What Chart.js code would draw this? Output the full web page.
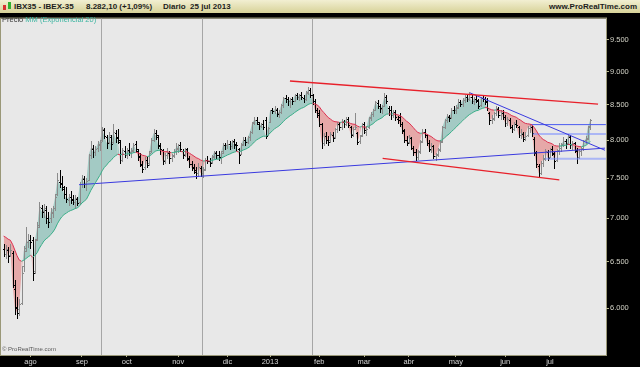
<!DOCTYPE html>
<html>
<head>
<meta charset="utf-8">
<script src="https://cdn.jsdelivr.net/npm/chart.js@4.4.1/dist/chart.umd.min.js"></script>
<style>
  body { margin: 0; background: #000; }
  #wrap { position: relative; width: 640px; height: 367px; overflow: hidden; background: #000;
          font-family: "Liberation Sans", Arial, sans-serif; }
  #hdr { position: absolute; left: 0; top: 0; width: 640px; height: 14px; box-sizing: border-box;
         background: linear-gradient(#f2efd2, #d7d298); border-bottom: 1px solid #8e8a62;
         font-size: 8px; font-weight: bold; color: #1c1c1c; line-height: 13px; }
  #hdr span { position: absolute; top: 0; white-space: nowrap; }
  .ico { position: absolute; top: 3px; width: 3px; height: 6px; }
  #cv { position: absolute; left: 0; top: 13px; }
  .txt { position: absolute; white-space: nowrap; }
</style>
</head>
<body>
<div id="wrap">
  <div id="hdr">
    <div class="ico" style="left:3px;background:#d83030;top:5px;height:5px"></div>
    <div class="ico" style="left:8px;background:#30b030;top:2px;height:7px"></div>
    <span style="left:14px">IBX35 - IBEX-35</span>
    <span style="left:86px">8.282,10 (+1,09%)</span>
    <span style="left:163px">Diario&nbsp; 25 jul 2013</span>
    <span style="right:3px">www.ProRealTime.com</span>
  </div>
  <canvas id="cv" width="640" height="354"></canvas>
  <div class="txt" style="left:2px;top:15px;font-size:7.5px;color:#3a3a3a">Precio <span style="color:#3cb4a0">MM (Exponencial 20)</span></div>
  <div class="txt" style="left:2px;top:346px;font-size:6px;color:#5a5a5a">© ProRealTime.com</div>
</div>
<script>
// IBEX-35 daily bars, 16 jul 2012 - 25 jul 2013 (one row per month)
const open = [
  6640,6590,6630,6570,6600,6200,6000,5990,6060,6450,6650,6720,
  6740,6750,6400,6760,6920,7120,7090,7100,7000,7000,7060,7130,7300,7450,7440,7360,7300,7220,7260,7230,7200,7230,7200,
  7420,7490,7420,7480,7800,7880,7840,7900,7940,8000,8140,8050,7980,8050,7980,8100,8040,7980,7740,7860,
  7800,7870,7840,7870,7950,7860,7790,7670,7640,7740,7690,7850,8010,8100,8050,7920,7870,7730,7800,7830,7760,7800,7860,
  7880,7940,7860,7810,7880,7750,7680,7640,7580,7570,7630,7560,7620,7740,7720,7710,7790,7830,7800,7760,7850,7940,
  7930,7950,7920,7990,7950,7880,7820,7950,8000,7980,8040,8120,8250,8280,8230,8200,8230,8280,8080,
  8250,8420,8410,8430,8380,8400,8500,8600,8580,8550,8580,8560,8640,8610,8640,8600,8590,8690,8720,8640,8560,8420,
  8380,8220,7960,8060,8010,8000,8080,8040,8150,8220,8180,8260,8230,8300,8180,8090,8160,8100,7990,8070,
  8230,8120,8180,8320,8370,8430,8530,8490,8440,8490,8620,8450,8420,8360,8400,8300,8320,8220,8130,8010,
  7980,8030,7890,7840,7780,7850,7990,8110,8070,7960,7870,7920,7790,7810,7880,7990,8190,8280,8330,8320,8430,
  8420,8470,8540,8510,8570,8610,8590,8610,8560,8590,8560,8500,8600,8580,8550,8380,8280,8310,8380,8440,8360,8390,
  8320,8240,8290,8180,8160,8230,8190,8070,8090,8040,8070,8170,8180,8020,7840,7650,7570,7700,7760,7840,
  7780,7880,7820,7730,7870,7900,7950,7990,7960,8050,7930,7960,7860,7780,7860,7890,8000,8030,8200
];
const high = [
  6700,6690,6660,6700,6620,6300,6120,6100,6450,6680,6900,6820,
  6800,6780,6760,6960,7200,7160,7180,7150,7080,7120,7150,7300,7560,7600,7520,7400,7380,7300,7330,7290,7280,7260,7450,
  7540,7530,7500,7820,7990,7930,7920,7990,8000,8180,8170,8080,8110,8070,8220,8140,8150,8000,7900,7920,
  7900,7960,7900,7970,7990,7880,7830,7720,7780,7780,7850,8030,8150,8140,8070,7960,7880,7830,7900,7860,7820,7880,7970,
  7950,7980,7880,7900,7900,7790,7720,7680,7640,7690,7660,7640,7760,7790,7760,7800,7860,7850,7860,7850,7960,7970,
  8010,7990,8000,8020,7980,7900,7960,8040,8040,8060,8130,8260,8330,8320,8260,8240,8290,8330,8180,
  8430,8460,8480,8450,8420,8520,8620,8640,8620,8600,8610,8660,8680,8660,8690,8640,8700,8760,8750,8660,8590,8460,
  8420,8240,8100,8110,8060,8120,8110,8170,8250,8260,8300,8290,8320,8330,8200,8180,8380,8120,8080,8240,
  8260,8200,8330,8400,8440,8560,8570,8520,8500,8670,8650,8490,8480,8420,8420,8340,8390,8260,8150,8060,
  8080,8050,7920,7880,7870,8000,8150,8160,8090,8000,7960,7940,7830,7900,8000,8200,8300,8370,8360,8450,8480,
  8500,8580,8570,8600,8640,8650,8690,8640,8610,8640,8590,8620,8650,8620,8600,8400,8350,8400,8480,8470,8420,8430,
  8350,8330,8310,8210,8260,8290,8200,8150,8120,8110,8200,8220,8200,8040,7860,7680,7720,7800,7880,7870,
  7900,7920,7840,7880,7970,7960,8040,8020,8090,8080,7990,7980,7890,7880,7910,8010,8060,8200,8300
];
const low = [
  6560,6540,6500,6560,6220,5940,5905,5930,6050,6400,6620,6660,
  6650,6300,6380,6740,6900,7020,7020,6950,6900,6960,7020,7100,7280,7380,7350,7250,7200,7160,7190,7170,7130,7160,7170,
  7390,7380,7350,7470,7760,7780,7800,7850,7870,7990,8030,7900,7960,7880,7960,7980,7960,7700,7720,7780,
  7760,7800,7780,7840,7860,7740,7650,7580,7620,7640,7670,7840,7990,8020,7900,7820,7680,7700,7760,7700,7720,7770,7820,
  7840,7850,7760,7790,7740,7640,7600,7560,7500,7530,7530,7510,7610,7690,7660,7700,7760,7760,7740,7700,7830,7880,
  7900,7880,7890,7900,7870,7690,7810,7930,7930,7960,8010,8100,8220,8220,8160,8180,8150,8030,8070,
  8250,8380,8380,8340,8330,8390,8470,8540,8500,8470,8520,8550,8590,8570,8590,8540,8570,8660,8620,8520,8400,8330,
  8200,7900,7940,7960,7940,7980,7990,8030,8120,8140,8150,8180,8210,8180,8040,8060,8150,7950,7960,8060,
  8100,8080,8170,8290,8340,8420,8460,8400,8390,8480,8530,8360,8300,8330,8280,8240,8200,8100,7980,7940,
  7960,7880,7800,7730,7750,7830,7980,8040,7940,7850,7840,7760,7730,7790,7860,7980,8170,8250,8270,8310,8380,
  8380,8450,8480,8490,8540,8560,8570,8530,8510,8540,8460,8480,8560,8510,8420,8220,8240,8290,8360,8330,8300,8300,
  8200,8210,8170,8120,8140,8180,8040,8030,7990,8000,8060,8110,8060,7800,7640,7515,7550,7660,7740,7730,
  7770,7800,7630,7720,7820,7860,7920,7900,7950,7900,7880,7840,7700,7760,7800,7870,7960,8020,8160
];
const close = [
  6590,6640,6560,6630,6246,6010,5956,6050,6380,6620,6720,6740,
  6720,6374,6740,6900,7140,7080,7120,7000,6960,7080,7120,7260,7480,7420,7380,7300,7230,7260,7220,7200,7250,7190,7420,
  7500,7420,7460,7800,7900,7840,7880,7950,7980,8150,8060,7960,8070,7950,8120,8030,8000,7730,7870,7800,
  7860,7840,7860,7940,7880,7780,7680,7620,7740,7670,7830,8000,8100,8070,7930,7880,7720,7800,7840,7760,7790,7850,7900,
  7930,7880,7800,7870,7760,7680,7630,7600,7560,7640,7560,7600,7740,7720,7700,7780,7840,7800,7770,7830,7940,7930,
  7950,7920,7980,7940,7930,7800,7940,8010,7980,8040,8110,8240,8290,8260,8200,8220,8180,8060,8170,
  8420,8410,8440,8370,8400,8500,8600,8580,8560,8580,8550,8640,8620,8640,8610,8580,8680,8720,8650,8560,8430,8360,
  8230,7960,8060,8000,7980,8090,8030,8150,8230,8180,8270,8230,8300,8210,8080,8150,8180,7980,8060,8230,
  8140,8160,8310,8370,8420,8540,8490,8450,8480,8620,8560,8420,8350,8400,8320,8280,8230,8140,8010,7970,
  8040,7900,7840,7780,7840,7980,8120,8080,7970,7880,7920,7790,7800,7870,7980,8180,8280,8340,8310,8430,8420,
  8460,8540,8510,8570,8610,8590,8620,8560,8590,8570,8490,8600,8580,8540,8450,8280,8300,8380,8450,8360,8390,8320,
  8240,8300,8190,8150,8230,8210,8070,8100,8020,8060,8170,8190,8100,7830,7680,7560,7690,7750,7850,7760,
  7880,7830,7720,7860,7900,7940,7990,7950,8060,7930,7960,7870,7780,7860,7880,7990,8020,8190,8282.1
];

// EMA 20 value already running at the left edge
const emaSeed = 6790;

// month ticks (bar index of first session) and their labels
const monthStart = [12, 35, 55, 78, 100, 119, 141, 161, 181, 202, 224, 244];
const monthNames = ['ago', 'sep', 'oct', 'nov', 'dic', '2013', 'feb', 'mar', 'abr', 'may', 'jun', 'jul'];
const priceTicks = [6000, 6500, 7000, 7500, 8000, 8500, 9000, 9500];

// drawn objects: [barIndex, price] end points
const redTop = [[127.9, 8855], [265.5, 8511]];
const redBottom = [[169.3, 7757], [248.2, 7476]];
const blueRising = [[33.7, 7415], [268.6, 7894]];
const blueFalling = [[208.3, 8677], [268.6, 7865]];
const levels = [[235.0, 8218], [236.4, 8087], [241.8, 7752]];
const markers = [43.5, 88.7, 137.9];

const k = 2 / 21;
const ema = [];
close.forEach((c, i) => ema.push(i === 0 ? emaSeed : ema[i - 1] + k * (c - ema[i - 1])));

const pts = arr => arr.map(p => ({ x: p[0], y: p[1] }));
const fmt = v => String(v).replace(/\B(?=(\d{3})+(?!\d))/g, '.');

const frame = {
  id: 'frame',
  beforeDraw(chart) {
    const { ctx, chartArea: a } = chart;
    ctx.save();
    ctx.fillStyle = '#000';
    ctx.fillRect(0, 0, chart.width, chart.height);
    ctx.fillStyle = '#e8e8e8';
    ctx.fillRect(a.left, a.top, a.right - a.left, a.bottom - a.top);
    ctx.strokeStyle = '#9a9878';
    ctx.lineWidth = 1;
    ctx.strokeRect(a.left - 0.5, a.top - 0.5, a.right - a.left + 1, a.bottom - a.top + 1);
    ctx.restore();
  }
};

const ohlc = {
  id: 'ohlc',
  beforeDatasetsDraw(chart) {
    const { ctx, chartArea: a } = chart;
    const xs = chart.scales.x, ys = chart.scales.y;
    ctx.save();
    ctx.fillStyle = '#a6a6a6';
    markers.forEach(m => {
      ctx.fillRect(Math.round(xs.getPixelForValue(m)), a.top, 1, a.bottom - a.top);
    });
    for (let i = 0; i < close.length; i++) {
      const x = Math.round(xs.getPixelForValue(i));
      const yH = Math.round(ys.getPixelForValue(high[i]));
      const yL = Math.round(ys.getPixelForValue(low[i]));
      const yO = Math.round(ys.getPixelForValue(open[i]));
      const yC = Math.round(ys.getPixelForValue(close[i]));
      ctx.fillStyle = close[i] >= open[i] ? '#8a8a8a' : '#000000';
      ctx.fillRect(x, yH, 1, Math.max(1, yL - yH + 1));
      ctx.fillRect(x - 1, yO, 1, 1);
      ctx.fillRect(x + 1, yC, 1, 1);
    }
    ctx.restore();
  }
};

const trend = (data, color, w) => ({
  type: 'line', data: pts(data), borderColor: color, borderWidth: w,
  pointRadius: 0, fill: false, tension: 0
});

const datasets = [
  {
    type: 'line', label: 'Precio', data: close.map((c, i) => ({ x: i, y: c })),
    borderWidth: 0, borderColor: 'rgba(0,0,0,0)', pointRadius: 0, tension: 0,
    fill: { target: 1, above: '#a3cac4', below: '#e6a8a8' }
  },
  {
    type: 'line', label: 'MM (Exponencial 20)', data: ema.map((e, i) => ({ x: i, y: e })),
    borderWidth: 1, pointRadius: 0, tension: 0, fill: false,
    segment: { borderColor: c => close[c.p1DataIndex] >= ema[c.p1DataIndex] ? '#36b08a' : '#e03050' }
  },
  trend(redTop, '#e8202a', 1.4),
  trend(redBottom, '#e8202a', 1.4),
  trend(blueRising, '#3a3ae0', 1),
  trend(blueFalling, '#3a3ae0', 1),
  trend([[levels[0][0], levels[0][1]], [269, levels[0][1]]], '#4a5af0', 1),
  trend([[levels[1][0], levels[1][1]], [269, levels[1][1]]], 'rgba(120,140,255,0.55)', 2),
  trend([[levels[2][0], levels[2][1]], [269, levels[2][1]]], 'rgba(120,140,255,0.55)', 2)
];

new Chart(document.getElementById('cv'), {
  type: 'line',
  data: { datasets },
  options: {
    responsive: false,
    animation: false,
    events: [],
    layout: { padding: { top: 1, left: 1, right: 0, bottom: 0 } },
    plugins: {
      legend: { display: false },
      tooltip: { enabled: false },
      filler: { drawTime: 'beforeDatasetsDraw' }
    },
    scales: {
      x: {
        type: 'linear', position: 'bottom', min: -1.16, max: 269.05,
        afterFit: s => { s.height = 12; },
        afterBuildTicks: s => { s.ticks = monthStart.map(v => ({ value: v })); },
        ticks: {
          callback: (v, i) => monthNames[i], color: '#d4d4d4', padding: 0,
          font: { family: 'Liberation Sans', size: 7.5 }, maxRotation: 0, autoSkip: false
        },
        grid: { drawOnChartArea: false, drawTicks: true, tickLength: 2, color: '#b8b690' },
        border: { display: false }
      },
      y: {
        type: 'logarithmic', position: 'right', min: 5540, max: 9855,
        afterFit: s => { s.width = 34; },
        afterBuildTicks: s => { s.ticks = priceTicks.map(v => ({ value: v })); },
        ticks: {
          callback: v => fmt(v), color: '#d4d4c8', padding: 1,
          font: { family: 'Liberation Sans', size: 7.5 }
        },
        grid: { drawOnChartArea: false, drawTicks: true, tickLength: 3, color: '#b8b690' },
        border: { display: false }
      }
    }
  },
  plugins: [frame, ohlc]
});
</script>
</body>
</html>
